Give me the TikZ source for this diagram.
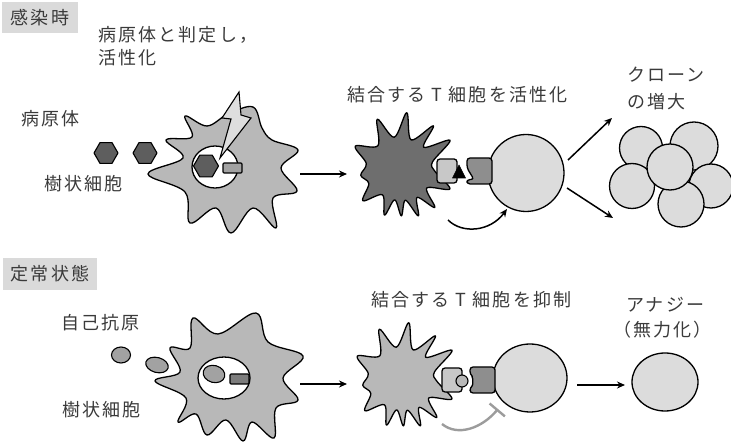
\documentclass[tikz,border=0pt]{standalone}
\usepackage{fontspec}
\newfontfamily\jpfont[LetterSpace=12]{Noto Sans CJK JP}
\usetikzlibrary{arrows.meta}

\definecolor{ink}{HTML}{3A3A3A}
\definecolor{tagfill}{HTML}{DADADA}
\definecolor{apclight}{HTML}{B8B8B8}
\definecolor{apcdark}{HTML}{6E6E6E}
\definecolor{tcellfill}{HTML}{DCDCDC}
\definecolor{hexfill}{HTML}{5E5E5E}
\definecolor{boltfill}{HTML}{DEDEDE}
\definecolor{midgray}{HTML}{A2A2A2}
\definecolor{darkbox}{HTML}{7C7C7C}
\definecolor{mhcfill}{HTML}{C8C8C8}
\definecolor{tcrfill}{HTML}{8E8E8E}
\definecolor{inhibit}{HTML}{9C9C9C}

\tikzset{
  label/.style={font=\jpfont\fontsize{18}{22}\selectfont, text=ink, inner sep=0pt, anchor=west},
  tagbox/.style={fill=tagfill, font=\jpfont\fontsize{18}{22}\selectfont, text=ink, inner sep=0pt},
  cellline/.style={draw=black, line width=1.3pt, line join=round},
  flow/.style={draw=black, line width=1.5pt, -{Stealth[length=8pt,width=7pt]}},
  pics/spiky/.style={code={
    \draw[cellline, fill=#1] plot[smooth cycle, tension=0.55] coordinates {
      (207:48) (228:30) (247:53) (263:31) (279:56) (295:31) (310:55) (321:33)
      (332:59) (350:35) (5:37) (22:56) (35:35) (47:54) (57:35) (67:52) (77:33)
      (86:48) (96:32) (106:49) (120:31) (137:48) (152:33) (169:38) (188:32)};
  }},
}

\begin{document}
\begin{tikzpicture}[x=1pt, y=-1pt]
\useasboundingbox (0,0) rectangle (731,443);

% ---------------- infection: upper row ----------------
\node[tagbox, minimum width=76pt, minimum height=31pt] (tagA) at (40,17.5) {感染時};
\node[label] (judge1) at (98,35) {病原体と判定し，};
\node[label] (judge2) at (98,58) {活性化};
\node[label] (pathogen) at (21,119) {病原体};
\node[label] (dcA) at (44,184) {樹状細胞};

% pathogens
\foreach \p in {(106,153),(145,153)}
  \draw[cellline, fill=hexfill, line width=1.1pt] \p +(0:12) -- +(60:12) -- +(120:12) -- +(180:12) -- +(240:12) -- +(300:12) -- cycle;

% dendritic cell sensing the pathogen
\draw[cellline, fill=apclight] plot[smooth cycle, tension=0.6] coordinates {
  (148,174) (183,158) (166,140) (192,137) (185,116) (207,126) (228,114)
  (253,107) (262,128) (272,140) (298,150) (281,168) (297,191) (273,198)
  (276,228) (253,208) (231,233) (216,208) (190,223) (185,192)};
\draw[cellline, fill=white] (215,167) ellipse[x radius=23, y radius=21];
\draw[cellline, fill=hexfill, line width=1.1pt] (206,166) +(0:12.5) -- +(60:12.5) -- +(120:12.5) -- +(180:12.5) -- +(240:12.5) -- +(300:12.5) -- cycle;
\draw[cellline, fill=midgray, line width=1.1pt, rounded corners=1pt] (223,163) rectangle (242,173);
\draw[cellline, fill=boltfill, line width=1.1pt, line join=miter]
  (239,92) -- (222,118) -- (231,119) -- (220,158) -- (251,118) -- (241,115) -- cycle;

\coordinate (a1s) at (300,174);
\coordinate (a1e) at (347,174);
\draw[flow] (a1s) -- (a1e);

% activated dendritic cell meeting a T cell
\node[label] (bindA) at (347,95) {結合する T 細胞を活性化};
\pic at (398,168) {spiky=apcdark};
\draw[cellline, fill=tcellfill] (526,173) ellipse[x radius=38, y radius=38.5];
\draw[cellline, fill=mhcfill, rounded corners=3pt] (437,159) rectangle (457,183);
\draw[fill=black, draw=black, line width=0.6pt, line join=round] (459,165) -- (465.5,178) -- (452.5,178) -- cycle;
\draw[cellline, fill=tcrfill, rounded corners=3pt]
  (467,158) -- (492,158) -- (492,184) -- (467,184) -- (467,179.5) -- (474,179.5)
  -- (467,168) -- cycle;

\coordinate (c1s) at (448,220);
\coordinate (c1e) at (507,209);
\draw[flow] (c1s) .. controls (462,234) and (490,232) .. (c1e);

\coordinate (s1) at (568,160);
\coordinate (s1e) at (612,118);
\coordinate (s2) at (567,188);
\coordinate (s2e) at (613,218);
\draw[flow] (s1) -- (s1e);
\draw[flow] (s2) -- (s2e);

% clonal expansion
\node[label] (clone1) at (627,75) {クローン};
\node[label] (clone2) at (627,102) {の増大};
\foreach \c/\r in {(641,148)/21.5, (694,146)/24, (632,186)/22.5, (711,186)/22, (681,204)/23, (670,167)/23}
  \draw[cellline, fill=tcellfill] \c circle[radius=\r];

% ---------------- steady state: lower row ----------------
\node[tagbox, minimum width=94pt, minimum height=32pt] (tagB) at (50,274) {定常状態};
\node[label] (selfag) at (61,323) {自己抗原};
\node[label] (dcB) at (62,410) {樹状細胞};

\draw[cellline, fill=midgray, line width=1.1pt] (121,355) ellipse[x radius=9.5, y radius=8];
\draw[cellline, fill=midgray, line width=1.1pt, rotate around={-15:(157,365)}] (157,365) ellipse[x radius=11.5, y radius=7.5];

\draw[cellline, fill=apclight] plot[smooth cycle, tension=0.6] coordinates {
  (155,381) (180,372) (170,348) (190,348) (193,318) (218,334) (256,313)
  (268,342) (303,356) (283,378) (298,400) (276,408) (274,438) (252,422)
  (243,441) (226,420) (207,435) (196,414) (178,422) (186,398)};
\draw[cellline, fill=white] (224,378) ellipse[x radius=26, y radius=21];
\draw[cellline, fill=midgray, line width=1.1pt, rotate around={-15:(214,374)}] (214,374) ellipse[x radius=11, y radius=8.5];
\draw[cellline, fill=darkbox, line width=1.1pt, rounded corners=1pt] (230,374) rectangle (249,384);

\coordinate (a3s) at (300,384);
\coordinate (a3e) at (347,384);
\draw[flow] (a3s) -- (a3e);

\node[label] (bindB) at (371,300) {結合する T 細胞を抑制};
\pic at (400,378) {spiky=apclight};
\draw[cellline, fill=tcellfill] (530,378) ellipse[x radius=37, y radius=34];
\draw[cellline, fill=mhcfill, rounded corners=3pt] (442,368) rectangle (462,392);
\draw[cellline, fill=apclight, line width=1.1pt] (462,381) circle[radius=6];
\draw[cellline, fill=tcrfill, rounded corners=3pt]
  (470,367) -- (495,367) -- (495,393) -- (470,393) -- (470,387.7)
  arc[start angle=48, end angle=-48, radius=9] -- cycle;

\coordinate (i1s) at (442,424);
\coordinate (i1e) at (498,409);
\draw[draw=inhibit, line width=2.4pt, -{Bar[width=20pt, line width=2.4pt]}]
  (i1s) .. controls (458,437) and (482,428) .. (i1e);

\coordinate (a4s) at (577,385);
\coordinate (a4e) at (625,385);
\draw[flow] (a4s) -- (a4e);

\node[label] (anergy1) at (626,305) {アナジー};
\node[label] (anergy2) at (613,330) {（無力化）};
\draw[cellline, fill=tcellfill] (665,382) ellipse[x radius=33, y radius=29];

\end{tikzpicture}
\end{document}
